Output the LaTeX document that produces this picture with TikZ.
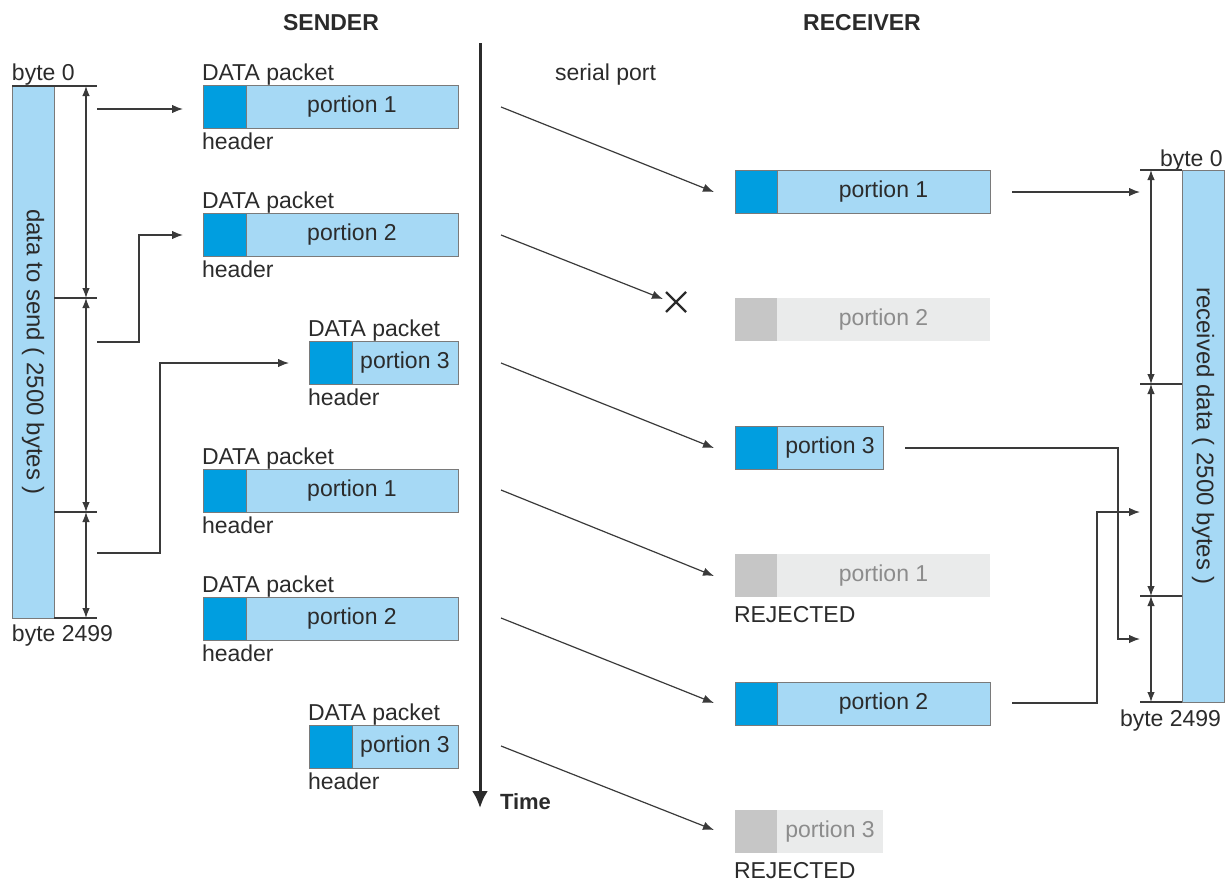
\documentclass[tikz,border=0pt]{standalone}
\usepackage{fontspec}
\setmainfont{Liberation Sans}
\usetikzlibrary{arrows.meta,calc}
\definecolor{lblue}{HTML}{A6D9F5}
\definecolor{dblue}{HTML}{009EE0}
\definecolor{ghdr}{HTML}{C6C6C6}
\definecolor{gbody}{HTML}{EAEBEB}
\definecolor{gtext}{HTML}{8C8C8C}
\definecolor{ink}{HTML}{2B2B2B}
\definecolor{edge}{HTML}{7A7A7A}
\definecolor{lin}{HTML}{3A3A3A}
\begin{document}
\begin{tikzpicture}[x=1pt,y=-1pt,
  every node/.style={font=\fontsize{23}{26}\selectfont, text=ink, inner sep=0pt, outer sep=0pt},
  lbl/.style={anchor=base west},
  ttl/.style={anchor=base, font=\fontsize{23}{26}\selectfont\bfseries},
  hdr/.style={anchor=north west, draw=edge, line width=0.8pt, fill=dblue, minimum width=43, minimum height=43},
  bdy/.style={anchor=north west, draw=edge, line width=0.8pt, fill=lblue, minimum height=43},
  ghd/.style={anchor=north west, fill=ghdr, minimum width=42, minimum height=43},
  gbd/.style={anchor=north west, fill=gbody, minimum height=43, text=gtext},
  bar/.style={draw=edge, line width=0.8pt, fill=lblue, anchor=north west, minimum width=42},
  conn/.style={draw=lin, line width=1.3pt, -{Latex[length=11pt,width=8.5pt]}},
  dim/.style={draw=lin, line width=1.2pt, {Latex[length=10pt,width=7.5pt]}-{Latex[length=10pt,width=7.5pt]}},
  tick/.style={draw=lin, line width=1.2pt}
]
\useasboundingbox (0,0) rectangle (1227,881);

% titles
\node[ttl] (sender) at (331,30) {SENDER};
\node[ttl] (receiver) at (862,30) {RECEIVER};
\node[lbl] (serial) at (555,80) {serial port};

% time axis
\coordinate (t0) at (480,43);
\coordinate (t1) at (480,808);
\draw[line width=3pt, draw=ink, -{Latex[length=17pt,width=16pt]}] (t0) -- (t1);
\node[lbl, font=\fontsize{22}{24}\selectfont\bfseries] (time) at (500,809) {Time};

% left data bar
\node[bar, minimum height=532] (lbar) at (12,86) {};
\node[rotate=-90, font=\fontsize{24}{26}\selectfont] (ltext) at (lbar.center) {data to send ( 2500 bytes )};
\node[lbl] (lb0) at (12,80) {byte 0};
\node[lbl] (lb1) at (12,641) {byte 2499};
\coordinate (la) at (12,86); \coordinate (lae) at (97,86);
\coordinate (lb) at (54,298); \coordinate (lbe) at (97,298);
\coordinate (lc) at (54,512); \coordinate (lce) at (97,512);
\coordinate (ld) at (54,618); \coordinate (lde) at (97,618);
\draw[tick] (la) -- (lae);
\draw[tick] (lb) -- (lbe);
\draw[tick] (lc) -- (lce);
\draw[tick] (ld) -- (lde);
\coordinate (da) at (86,86); \coordinate (db) at (86,298);
\coordinate (dc) at (86,512); \coordinate (dd) at (86,618);
\draw[dim] (da) -- (db);
\draw[dim] (db) -- (dc);
\draw[dim] (dc) -- (dd);

% sender packets
\node[hdr] (s1h) at (203,85) {};
\node[bdy, minimum width=212] (s1) at (246,85) {portion 1};
\node[lbl] (s1l) at (202,80) {DATA packet};
\node[lbl] (s1f) at (202,149) {header};

\node[hdr] (s2h) at (203,213) {};
\node[bdy, minimum width=212] (s2) at (246,213) {portion 2};
\node[lbl] (s2l) at (202,208) {DATA packet};
\node[lbl] (s2f) at (202,277) {header};

\node[hdr] (s3h) at (309,341) {};
\node[bdy, minimum width=106] (s3) at (352,341) {portion 3};
\node[lbl] (s3l) at (308,336) {DATA packet};
\node[lbl] (s3f) at (308,405) {header};

\node[hdr] (s4h) at (203,469) {};
\node[bdy, minimum width=212] (s4) at (246,469) {portion 1};
\node[lbl] (s4l) at (202,464) {DATA packet};
\node[lbl] (s4f) at (202,533) {header};

\node[hdr] (s5h) at (203,597) {};
\node[bdy, minimum width=212] (s5) at (246,597) {portion 2};
\node[lbl] (s5l) at (202,592) {DATA packet};
\node[lbl] (s5f) at (202,661) {header};

\node[hdr] (s6h) at (309,725) {};
\node[bdy, minimum width=106] (s6) at (352,725) {portion 3};
\node[lbl] (s6l) at (308,720) {DATA packet};
\node[lbl] (s6f) at (308,789) {header};

% left to sender connectors
\coordinate (c1) at (97,109);
\draw[conn] (c1) -- (183,109);
\coordinate (c2) at (97,342);
\draw[conn] (c2) -| (139,235) -- (183,235);
\coordinate (c3) at (97,553);
\draw[conn] (c3) -| (160,363) -- (289,363);

% receiver packets
\node[hdr] (r1h) at (735,170) {};
\node[bdy, minimum width=213] (r1) at (777,170) {portion 1};

\node[ghd] (r2h) at (735,298) {};
\node[gbd, minimum width=213] (r2) at (777,298) {portion 2};

\node[hdr] (r3h) at (735,426) {};
\node[bdy, minimum width=106] (r3) at (777,426) {portion 3};

\node[ghd] (r4h) at (735,554) {};
\node[gbd, minimum width=213] (r4) at (777,554) {portion 1};
\node[lbl] (r4l) at (734,622) {REJECTED};

\node[hdr] (r5h) at (735,682) {};
\node[bdy, minimum width=213] (r5) at (777,682) {portion 2};

\node[ghd] (r6h) at (735,810) {};
\node[gbd, minimum width=106] (r6) at (777,810) {portion 3};
\node[lbl] (r6l) at (734,878) {REJECTED};

% transmissions
\coordinate (a1) at (501,107); \coordinate (b1) at (714,192);
\coordinate (a2) at (501,235); \coordinate (b2) at (663,299);
\coordinate (a3) at (501,363); \coordinate (b3) at (714,448);
\coordinate (a4) at (501,490); \coordinate (b4) at (714,576);
\coordinate (a5) at (501,618); \coordinate (b5) at (714,703);
\coordinate (a6) at (501,746); \coordinate (b6) at (714,830);
\draw[conn, line width=1.2pt] (a1) -- (b1);
\draw[conn, line width=1.2pt] (a2) -- (b2);
\draw[conn, line width=1.2pt] (a3) -- (b3);
\draw[conn, line width=1.2pt] (a4) -- (b4);
\draw[conn, line width=1.2pt] (a5) -- (b5);
\draw[conn, line width=1.2pt] (a6) -- (b6);
\coordinate (x0) at (676,302);
\draw[line width=2.4pt, draw=ink] ($(x0)+(-10,-10)$) -- ($(x0)+(10,10)$);
\draw[line width=2.4pt, draw=ink] ($(x0)+(-10,10)$) -- ($(x0)+(10,-10)$);

% right bar
\node[bar, minimum height=532] (rbar) at (1182,170) {};
\node[rotate=-90, font=\fontsize{24}{26}\selectfont] (rtext) at (rbar.center) {received data ( 2500 bytes )};
\node[lbl] (rb0) at (1160,166) {byte 0};
\node[lbl] (rb1) at (1120,726) {byte 2499};
\coordinate (ra) at (1140,170); \coordinate (rae) at (1182,170);
\coordinate (rb) at (1140,384); \coordinate (rbe) at (1182,384);
\coordinate (rc) at (1140,596); \coordinate (rce) at (1182,596);
\coordinate (rd) at (1140,702); \coordinate (rde) at (1182,702);
\draw[tick] (ra) -- (rae);
\draw[tick] (rb) -- (rbe);
\draw[tick] (rc) -- (rce);
\draw[tick] (rd) -- (rde);
\coordinate (ea) at (1151,170); \coordinate (eb) at (1151,384);
\coordinate (ec) at (1151,596); \coordinate (ed) at (1151,702);
\draw[dim] (ea) -- (eb);
\draw[dim] (eb) -- (ec);
\draw[dim] (ec) -- (ed);

% receiver to right bar
\coordinate (e1) at (1012,192);
\draw[conn] (e1) -- (1140,192);
\coordinate (e3) at (905,448);
\draw[conn] (e3) -| (1118,639) -- (1140,639);
\coordinate (e5) at (1012,703);
\draw[conn] (e5) -| (1097,512) -- (1140,512);
\end{tikzpicture}
\end{document}
